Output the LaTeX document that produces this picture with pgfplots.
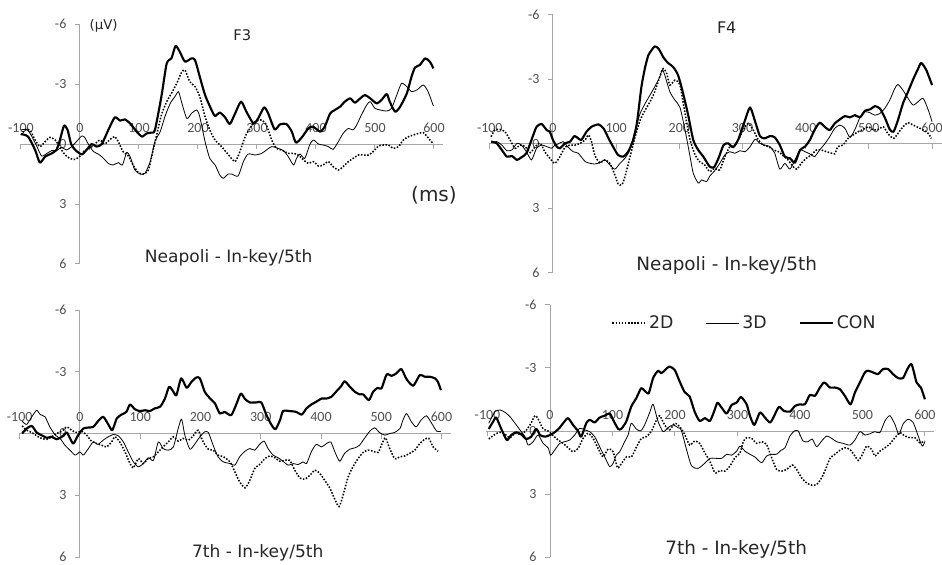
\documentclass[border=0pt]{standalone}
\usepackage{fontspec}
\setmainfont{DejaVu Sans}
\newfontfamily\tickfont{Carlito}
\usepackage{pgfplots}
\pgfplotsset{compat=1.18}
\definecolor{axgray}{HTML}{A6A6A6}
\definecolor{tickgray}{HTML}{505050}
\definecolor{txt}{HTML}{262626}
\pgfplotsset{
  erp/.style={
    scale only axis, anchor=south west, clip=false,
    axis x line=middle, axis y line=middle,
    x axis line style={-, draw=axgray, line width=0.75pt},
    y axis line style={-, draw=axgray, line width=0.75pt},
    y dir=reverse,
    xmin=-102, xmax=615, ymin=-6, ymax=6,
    xtick={-100,0,100,200,300,400,500,600}, ytick={-6,-3,0,3,6},
    xticklabels={-100,0,100,200,300,400,500,600},
    yticklabels={-6,-3,0,3,6},
    hide obscured x ticks=false, hide obscured y ticks=false,
    major tick length=4pt, tick align=center,
    xtick style={draw=axgray, line width=0.75pt, yshift=-2pt},
    ytick style={draw=axgray, line width=0.75pt, xshift=-2pt},
    xticklabel style={anchor=center, yshift=14.25pt, text=tickgray, font=\tickfont\fontsize{10.5}{12}\selectfont},
    yticklabel style={anchor=east, inner sep=0pt, xshift=-8pt, text=tickgray, font=\tickfont\fontsize{10.5}{12}\selectfont},
  },
  con/.style={black, line width=1.6pt, line join=round, smooth, tension=0.4, mark=none},
  dd/.style={black, line width=0.6pt, line join=round, smooth, tension=0.4, mark=none},
  dt/.style={black, line width=1.15pt, dash pattern=on 1.15pt off 1.2pt, smooth, tension=0.4, mark=none},
}
\begin{document}
\begin{tikzpicture}
\useasboundingbox (0,0) rectangle (706.5pt,423pt);
% ---------------- Panel 1: F3 Neapoli
\begin{axis}[erp, at={(14.85pt,225pt)}, width=317.25pt, height=180pt]
\addplot[dt] coordinates {(-100,-0.45) (-93,-0.7) (-85,-0.7) (-76,-0.2) (-68,0.13) (-59,-0.12) (-51,-0.33) (-42,-0.2) (-34,0.17) (-25,0.55) (-17,0.72) (-8,0.77) (0,0.6) (8,0.33) (17,0.22) (25,0) (34,-0.2) (42,0) (51,-0.23) (59,-0.37) (65,-0.12) (73,0.38) (82,0.6) (90,1.05) (99,1.43) (107,1.5) (116,1.3) (124,0.3) (130,-0.45) (138,-1.45) (147,-2.12) (155,-2.53) (164,-3.03) (172,-3.57) (178,-3.7) (186,-3.12) (195,-2.87) (203,-2.37) (212,-1.37) (220,-0.7) (229,-0.2) (240,0.13) (252,0.55) (263,0.88) (271,0.38) (280,-0.37) (288,-0.78) (297,-1.12) (308,-1.2) (316,-0.95) (325,-0.2) (333,0.22) (342,0.3) (353,0.47) (362,0.47) (370,0.55) (379,0.8) (387,0.97) (396,0.88) (404,1.1) (412,1.05) (421,0.88) (429,1.13) (438,1.3) (446,1.13) (455,0.88) (463,0.72) (472,0.55) (480,0.55) (489,0.55) (497,0.38) (506,0.1) (514,0.05) (523,0.05) (531,0.22) (540,0.13) (548,-0.2) (557,-0.37) (565,-0.45) (574,-0.53) (582,-0.57) (591,-0.28) (599,0)};
\addplot[dd] coordinates {(-100,-0.7) (-90,-0.73) (-82,-0.4) (-73,0.13) (-65,0.6) (-56,0.47) (-48,0.33) (-40,0.33) (-31,0.17) (-23,0.3) (-14,0.13) (-6,-0.12) (3,-0.4) (8,-0.33) (14,0) (23,0.38) (31,0.5) (40,0.72) (48,0.97) (56,1.05) (65,0.93) (72,1.05) (79,0.43) (85,0.63) (93,1.3) (102,1.5) (110,1.47) (119,0.88) (127,-0.12) (136,-0.62) (144,-1.37) (153,-2.03) (161,-2.37) (167,-2.62) (172,-2.12) (181,-1.28) (189,-1.53) (198,-1.7) (203,-1.37) (212,-0.12) (220,0.72) (229,1.05) (237,1.55) (243,1.72) (251,1.5) (257,1.5) (268,1.6) (277,0.88) (285,0.5) (297,0.55) (308,0.47) (316,0.3) (325,0.13) (336,0.22) (345,0.33) (353,0.63) (362,1.05) (367,0.72) (373,0.5) (381,0.72) (390,0) (396,-0.2) (404,0) (412,0.05) (421,0.13) (429,0.27) (438,-0.12) (446,-0.53) (455,-0.78) (463,-0.7) (469,-0.95) (477,-1.45) (486,-1.95) (492,-2.12) (500,-1.78) (509,-1.7) (520,-1.65) (528,-1.78) (537,-2.45) (545,-3.03) (554,-2.87) (562,-2.62) (571,-2.7) (582,-2.95) (590,-2.62) (599,-1.9)};
\addplot[con] coordinates {(-100,-0.5) (-88,-0.37) (-76,0.3) (-68,0.93) (-59,0.63) (-48,0.47) (-40,0.3) (-34,-0.2) (-27,-0.92) (-21,-0.7) (-15,0) (-8,0.3) (3,0.52) (11,0.3) (20,0) (28,0.13) (37,0) (48,-0.7) (59,-1.33) (68,-1.17) (76,-1.23) (85,-1.03) (96,-0.62) (105,-0.37) (113,-0.53) (121,-0.57) (127,-0.7) (138,-2.37) (147,-4.03) (155,-4.28) (162,-4.9) (169,-4.62) (178,-4.12) (189,-4.28) (195,-4.2) (203,-3.37) (212,-2.45) (223,-1.7) (229,-1.4) (237,-1.57) (246,-1.33) (254,-1.0) (263,-1.53) (273,-2.12) (282,-1.62) (294,-1.03) (302,-1.28) (312,-1.83) (319,-1.53) (330,-0.73) (339,-0.98) (350,-1.0) (359,-0.62) (366,-0.07) (376,-0.33) (387,-0.78) (395,-0.87) (407,-0.62) (415,-0.87) (424,-1.53) (432,-1.7) (441,-1.87) (449,-2.12) (458,-2.28) (466,-2.07) (475,-2.28) (483,-2.45) (492,-2.28) (503,-2.03) (511,-2.2) (520,-2.5) (525,-2.12) (534,-1.62) (542,-1.83) (554,-2.53) (562,-3.37) (568,-3.83) (576,-3.95) (585,-4.28) (593,-4.12) (599,-3.78)};
\node[text=txt, font=\fontsize{10}{12}\selectfont] at (axis cs:40,-5.9) {(μV)};
\node[text=txt, font=\fontsize{11}{13}\selectfont] at (axis cs:275,-5.45) {F3};
\node[text=txt, font=\fontsize{15}{17}\selectfont] at (axis cs:600,2.55) {(ms)};
\node[text=txt, font=\fontsize{12.8}{15}\selectfont] at (axis cs:252,5.7) {Neapoli - In-key/5th};
\end{axis}
% ---------------- Panel 2: F4 Neapoli
\begin{axis}[erp, at={(366.4pt,218.25pt)}, width=339.75pt, height=193.5pt]
\addplot[dt] coordinates {(-98,-0.34) (-92,-0.65) (-84,-0.68) (-76,-0.57) (-68,-0.19) (-60,0.2) (-52,0.05) (-44,0.12) (-36,0.4) (-28,0.12) (-20,-0.03) (-13,0.36) (-5,0.66) (3,0.9) (11,0.59) (19,0.15) (27,0.05) (35,0.05) (43,-0.03) (51,-0.19) (56,-0.42) (61,-0.11) (66,0.51) (74,0.87) (82,0.74) (90,0.9) (98,1.44) (103,1.85) (109,1.9) (114,1.51) (122,0.59) (130,-0.34) (138,-1.11) (146,-1.58) (153.5,-1.96) (161,-2.43) (169,-3.12) (174.5,-3.51) (180,-3.28) (185,-2.74) (193,-2.97) (201,-2.74) (209,-1.42) (217,-0.19) (225,0.51) (232,0.82) (240,0.97) (248,1.28) (256,1.13) (264,1.2) (272,0.59) (280,0.12) (288,0.05) (296,-0.34) (304,-0.8) (309,-0.96) (317,-0.65) (325,-0.19) (333,0.05) (341,0.12) (349,0.28) (357,0.36) (365,0.56) (372,0.74) (380,1.05) (386,1.17) (393,0.9) (401,0.66) (409,0.51) (417,0.28) (425,0.28) (433,0.36) (441,0.43) (446,0.46) (451,0.12) (459,0.05) (467,-0.26) (475,-0.42) (483,-0.57) (491,-0.68) (499,-0.8) (507,-0.65) (515,-0.68) (523,-0.8) (530,-0.49) (539,-0.26) (546,-0.49) (554,-0.8) (562,-0.99) (570,-0.88) (578,-0.77) (586,-0.65) (594,-0.49) (599,-0.26)};
\addplot[dd] coordinates {(-98,-0.06) (-89,-0.11) (-81,0.05) (-73,0.31) (-65,0.28) (-57,-0.03) (-50,0.05) (-42,0.36) (-34,0.74) (-26,0.2) (-18,0.05) (-10,0.12) (-2,0.2) (3,0.05) (8,0) (16,-0.11) (24,0.15) (32,0.36) (40,0.43) (51,0.82) (59,0.9) (66,0.93) (74,0.87) (82,0.74) (90,0.97) (98,1.17) (106,0.9) (114,0.66) (122,0.25) (130,-0.65) (138,-1.42) (146,-1.89) (153.5,-2.27) (161,-2.66) (169,-3.12) (173,-3.46) (177,-3.2) (185,-2.43) (193,-2.04) (201,-1.7) (209,-0.65) (217,0.59) (222,1.36) (230,1.82) (235,1.67) (243,1.75) (248,1.5) (256,1.24) (264,0.9) (272,0.51) (280,0.36) (288,0.43) (296,0.31) (304,0.36) (312,0.12) (320,-0.22) (327.5,-0.03) (335,0.05) (343.5,0.12) (351,0.43) (359,1.17) (367,0.9) (375,1.17) (383,0.74) (391,0.28) (399,0.36) (406.6,0.46) (414,0.59) (422,0.28) (430,0) (438,-0.34) (446,-0.73) (454,-0.88) (462,-0.73) (470,-0.31) (478,-0.68) (486,-1.24) (494,-1.5) (502,-1.45) (509.5,-1.34) (517.5,-1.42) (525,-1.65) (533,-2.04) (541,-2.58) (546,-2.77) (554,-2.5) (562,-2.12) (570,-1.81) (578,-1.97) (586,-2.12) (594,-1.58) (600,-1.04)};
\addplot[con] coordinates {(-98,-0.11) (-89,-0.03) (-81,0.28) (-73,0.59) (-65,0.56) (-57,0.74) (-50,0.62) (-42,0.43) (-34,-0.19) (-26,-0.8) (-18,-0.93) (-10,-0.65) (-5,-0.57) (0,-0.19) (6,0.12) (11,0.2) (19,-0.03) (27,-0.11) (34,-0.37) (40,-0.26) (45,-0.19) (53,-0.57) (61,-0.8) (72,-0.91) (80,-0.73) (88,-0.26) (95,0.12) (103,0.51) (111,0.59) (119,0.36) (127,-0.19) (133,-1.0) (140,-2.66) (146,-3.59) (151,-4.13) (156,-4.36) (161,-4.54) (167,-4.44) (175,-4.02) (182,-3.77) (190,-3.59) (198,-3.2) (206,-2.35) (214,-1.34) (222,-0.19) (230,0.28) (238,0.59) (248,1.05) (255,1.08) (262,0.66) (270,0.05) (277.5,-0.03) (285,0.15) (293,-0.19) (304,-1.11) (312,-1.7) (320,-1.04) (327.5,-0.37) (335,-0.26) (343.5,-0.37) (351,-0.31) (359,0.05) (367,0.59) (375,0.66) (383,0.87) (391,0.28) (399,0.12) (406.6,-0.19) (414,-0.65) (422,-0.99) (430,-0.8) (438,-0.65) (446,-0.96) (454,-1.14) (462,-1.3) (470,-1.24) (478,-1.34) (486,-1.24) (494,-1.55) (502,-1.61) (509.5,-1.76) (517.5,-1.65) (525,-1.24) (533,-0.68) (539,-0.57) (546,-1.11) (554,-1.89) (562,-2.43) (570,-3.0) (578,-3.51) (583,-3.77) (591,-3.43) (600,-2.74)};
\node[text=txt, font=\fontsize{12}{14}\selectfont] at (axis cs:275,-5.4) {F4};
\node[text=txt, font=\fontsize{13.8}{16}\selectfont] at (axis cs:275,5.67) {Neapoli - In-key/5th};
\end{axis}
% ---------------- Panel 3: F3 7th
\begin{axis}[erp, at={(13.9pt,5.25pt)}, width=324pt, height=185.25pt]
\addplot[dt] coordinates {(-96,-0.37) (-88.5,-0.16) (-80,-0.05) (-72,0.11) (-64,0.24) (-55,0.28) (-47,0.16) (-39,0) (-30,-0.11) (-22,-0.32) (-14,-0.16) (-6,-0.05) (3,-0.11) (11,0.08) (19,0.37) (28,0.49) (36,0.57) (44,0.65) (52.5,0.41) (58,0.16) (66,0.41) (74.6,0.89) (83,1.46) (88.5,1.67) (97,1.22) (105,1.46) (113,1.22) (122,1.13) (130,0.89) (138,0.65) (146.5,0.41) (155,0.16) (163,0.37) (171,0.24) (180,0.32) (188,0.11) (196,-0.16) (204.5,0.41) (213,0.76) (221,0.81) (229,1.05) (238,1.13) (249,1.38) (257,1.86) (265,2.35) (274,2.64) (282,2.27) (290,1.7) (298,1.51) (307,1.22) (315,1.09) (323.5,1.18) (332,1.35) (340,1.3) (348,1.3) (356.5,1.78) (365,2.16) (373,2.22) (381.6,2.03) (390,1.78) (398,1.94) (406,2.27) (415,2.67) (423,3.2) (430,3.55) (436.7,3.0) (445,2.11) (453,1.62) (461.5,1.22) (470,0.92) (478,0.81) (486.5,0.86) (495,0.92) (501.4,0.49) (507,0.21) (514,0.73) (522.4,1.22) (531,1.13) (539,1.09) (547,0.97) (555.6,0.81) (564,0.49) (572,0.28) (579,0.24) (586,0.65) (594.4,0.86)};
\addplot[dd] coordinates {(-96,-0.6) (-88.5,-0.44) (-80,-0.81) (-72,-1.13) (-66,-0.92) (-58,-0.81) (-50,-0.32) (-41,0.08) (-33,0.24) (-25,0.57) (-16.6,0.81) (-8,1.05) (0,0.89) (5.5,1.05) (14,0.73) (22,0.41) (30,0.53) (38.6,0.32) (47,0.16) (55,0.05) (63.6,0.11) (72,0.41) (80,0.89) (88.5,1.38) (97,1.62) (105,1.46) (113.4,1.18) (122,1.3) (130,0.41) (138,0.73) (146.5,0.81) (155,0.65) (163,-0.24) (168.6,-0.7) (174,0.08) (182.4,0.76) (191,0.49) (199,0.16) (207,-0.08) (213,-0.05) (221,0.57) (229,1.13) (238,1.38) (249,1.46) (257,1.54) (265,1.13) (274,0.86) (282,0.73) (290,0.81) (298,0.53) (305.6,0.37) (312,0.73) (320.6,1.05) (329,1.18) (337,1.35) (345.7,1.54) (354,1.46) (362,1.51) (370.4,1.38) (376,1.46) (384,0.89) (392,0.53) (401,0.65) (409,0.49) (416.3,0.41) (423,0.89) (431,1.35) (439,0.97) (448,0.76) (456,0.7) (464,0.57) (472,0.24) (481,-0.11) (489,-0.28) (497,-0.05) (506,0.08) (514,0) (522,-0.05) (531,-0.24) (536,-0.65) (542,-0.97) (550,-0.57) (558,-0.32) (566,-0.65) (575,-0.86) (583,-0.53) (592,-0.11) (599,-0.11)};
\addplot[con] coordinates {(-96,0) (-88.5,-0.24) (-80,-0.37) (-72,-0.05) (-64,0.08) (-55,0.21) (-47,0.16) (-39,0.28) (-30,0.16) (-22,-0.05) (-17,0.21) (-11,0.49) (-3,0.08) (5.5,-0.24) (14,-0.29) (22,-0.32) (30,-0.6) (38.6,-0.81) (47,-0.44) (53.6,-0.16) (61,-0.73) (69,-0.92) (77,-1.05) (83,-1.41) (91,-1.18) (99,-1.09) (108,-1.13) (116,-1.09) (124,-1.22) (133,-1.3) (141,-1.7) (148,-2.27) (155,-2.03) (160,-1.86) (168,-2.68) (177,-2.22) (185,-2.51) (193,-2.72) (199,-2.68) (207,-2.03) (216,-1.7) (224,-1.46) (232,-0.97) (240,-1.05) (251,-0.89) (260,-1.46) (267,-1.94) (274,-1.67) (282,-1.51) (293,-1.51) (301,-1.51) (309.5,-0.89) (318,-0.41) (324.5,-0.21) (332,-0.65) (337,-1.09) (348,-1.09) (359,-1.05) (368,-0.92) (376,-1.22) (384,-1.41) (392,-1.54) (401,-1.7) (409,-1.7) (417,-1.78) (425,-2.03) (434,-2.32) (439,-2.54) (448,-2.27) (456,-2.03) (464,-1.9) (470,-1.9) (479.5,-1.62) (486.5,-2.03) (494,-2.22) (500.4,-2.19) (509,-2.87) (517,-2.8) (525,-2.92) (533.4,-3.13) (542,-2.64) (553,-2.32) (564,-2.84) (572,-2.76) (580.4,-2.76) (589,-2.68) (594,-2.51) (599,-2.11)};
\node[text=txt, font=\fontsize{12.8}{15}\selectfont] at (axis cs:295,5.78) {7th - In-key/5th};
\end{axis}
% ---------------- Panel 4: F4 7th
\begin{axis}[erp, at={(364.7pt,5.25pt)}, width=336pt, height=189pt,
  legend columns=3,
  legend style={draw=none, fill=none, at={(axis cs:312,-5.14)}, anchor=center,
    font=\fontsize{13}{15}\selectfont, text=txt,
    /tikz/every even column/.append style={column sep=22pt}},
  legend image code/.code={\draw[#1, smooth=false] (0pt,0pt) -- (25pt,0pt);},
]
\addplot[dt] coordinates {(-98,0.38) (-88,0.16) (-80,0.06) (-72,0.16) (-64,0.32) (-56,0.11) (-48,0.16) (-40,0.03) (-32,-0.29) (-24,-0.73) (-19,-0.57) (-11,-0.1) (-3,0) (5,0.22) (13,0.43) (21,0.59) (29,0.8) (37,0.99) (45,0.83) (53,0.35) (61,0.11) (69,0.35) (77,0.83) (85,1.23) (93,0.86) (101,0.99) (108,1.75) (114.5,1.54) (122.5,1.23) (130.5,1.23) (138.5,0.75) (146.5,0.35) (154.5,0.27) (162.5,0) (170.5,-0.53) (175.5,-0.73) (183.5,-0.29) (191.5,-0.05) (199.5,-0.37) (207.5,-0.21) (215.5,0.16) (223.5,0.67) (231.5,0.48) (239.5,0.59) (248,1.05) (256,1.45) (264,1.99) (272,1.88) (280,1.91) (288,1.67) (296,1.27) (304,1.05) (309.3,0.51) (314.7,0.32) (322.7,0.35) (330.7,0.59) (338.7,0.51) (346.7,0.64) (354.7,1.27) (362.7,1.83) (370.7,1.91) (378.7,1.83) (387.7,1.62) (394.7,1.83) (402.7,2.23) (410.7,2.47) (418.7,2.58) (426.7,2.55) (434.7,2.23) (441,1.83) (448,1.31) (456,1.11) (464,0.92) (472,0.8) (480,0.88) (488,1.19) (493.3,1.4) (498.7,1.19) (506.7,0.72) (514.7,0.88) (520,1.19) (528,0.96) (536,0.8) (544,0.61) (552,0.32) (560,0.08) (568,0.24) (576,0.32) (584,0.32) (592,0.56) (600,0.48)};
\addlegendentry{2D}
\addplot[dd] coordinates {(-98,-0.37) (-88,-0.92) (-80,-1.0) (-72,-0.89) (-64,-0.68) (-56,-0.37) (-48,-0.05) (-40,0.27) (-35,0.67) (-27,0.51) (-19,0.19) (-11,0.59) (-3,0.8) (1,1.15) (7.5,0.91) (15.5,0.59) (23.5,0.51) (31.5,0.43) (39.5,0.19) (47.5,-0.13) (55.5,-0.05) (63.5,0.03) (71.5,0.27) (79.5,0.75) (87.5,1.23) (95.5,1.7) (101,1.54) (106,1.15) (111.5,0.99) (119.5,0.51) (125,0.19) (130,-0.37) (138,-0.1) (145,0) (151.5,-0.29) (160,-0.92) (165,-1.27) (173,-0.45) (181,0.03) (189,-0.16) (197,-0.29) (205,-0.16) (210,-0.05) (218,0.83) (226.5,1.66) (237,1.78) (247.5,1.54) (256,1.3) (264,1.3) (274.7,1.3) (282.7,1.11) (290.7,1.15) (298.7,0.96) (304,0.72) (312,0.96) (320,1.11) (328,1.24) (338.7,1.51) (346.7,1.19) (354.7,1.11) (362.7,1.11) (369.6,0.92) (376,0.8) (384,0.24) (391,0) (397.3,0) (405,0.48) (413,0.51) (419.7,0.38) (426.7,0.75) (434.7,0.48) (442.7,0.24) (450.7,0.35) (458.7,0.51) (469.3,0.59) (480,0.67) (488,0.43) (496,0.03) (504,0.19) (512,0.13) (520,0.03) (528,0.08) (536,-0.48) (544,-0.73) (552,-0.32) (558.4,0.16) (565.3,-0.35) (573.3,-0.56) (581.3,-0.4) (589.3,0.24) (595.7,0.72) (600,0.51)};
\addlegendentry{3D}
\addplot[con] coordinates {(-98,-0.1) (-91,-0.45) (-86,-0.64) (-78,-0.1) (-69,0.43) (-62,0.19) (-54,0.06) (-46,0.16) (-38,0.38) (-30,0.27) (-22,-0.1) (-16,0.19) (-8,0.27) (0,0.19) (7.5,0.06) (15.5,-0.16) (22,-0.41) (29,-0.61) (36.8,-0.29) (44.8,0) (50,0.27) (58,-0.37) (63.5,-0.53) (71.5,-0.41) (79.5,-0.64) (87.5,-0.73) (95.5,-0.84) (101,-0.53) (109,-0.1) (114,-0.1) (122,-0.45) (130,-1.16) (138,-1.56) (146,-2.04) (151.5,-1.91) (158,-1.8) (165,-2.52) (173,-2.87) (178,-2.75) (184.5,-2.91) (191,-3.07) (199.5,-2.91) (207.5,-2.36) (215.5,-1.85) (223.5,-1.64) (231.5,-0.92) (239.5,-0.48) (248,-0.61) (256,-0.48) (263,-0.96) (268,-1.35) (274.7,-1.11) (282.7,-0.83) (290.7,-1.24) (298.7,-1.35) (305.6,-1.62) (314.7,-1.27) (320,-0.72) (327,-0.29) (336,-0.88) (344,-0.64) (352,-0.4) (357,-0.61) (366.4,-1.15) (374,-0.96) (384,-0.92) (392,-1.19) (400,-1.27) (408,-1.27) (416,-1.72) (424,-1.67) (432,-2.07) (439,-2.31) (448,-2.07) (456,-2.07) (464,-1.99) (472,-1.67) (481,-1.27) (488,-1.83) (496,-2.31) (504,-2.79) (509,-2.87) (517,-2.79) (525,-2.71) (533,-2.95) (541,-2.95) (549,-2.71) (557,-2.52) (565,-2.52) (572,-2.95) (578.7,-3.18) (586.7,-2.31) (593.6,-2.07) (600,-1.51)};
\addlegendentry{CON}
\node[text=txt, font=\fontsize{13.8}{16}\selectfont] at (axis cs:298,5.62) {7th - In-key/5th};
\end{axis}
\end{tikzpicture}
\end{document}
